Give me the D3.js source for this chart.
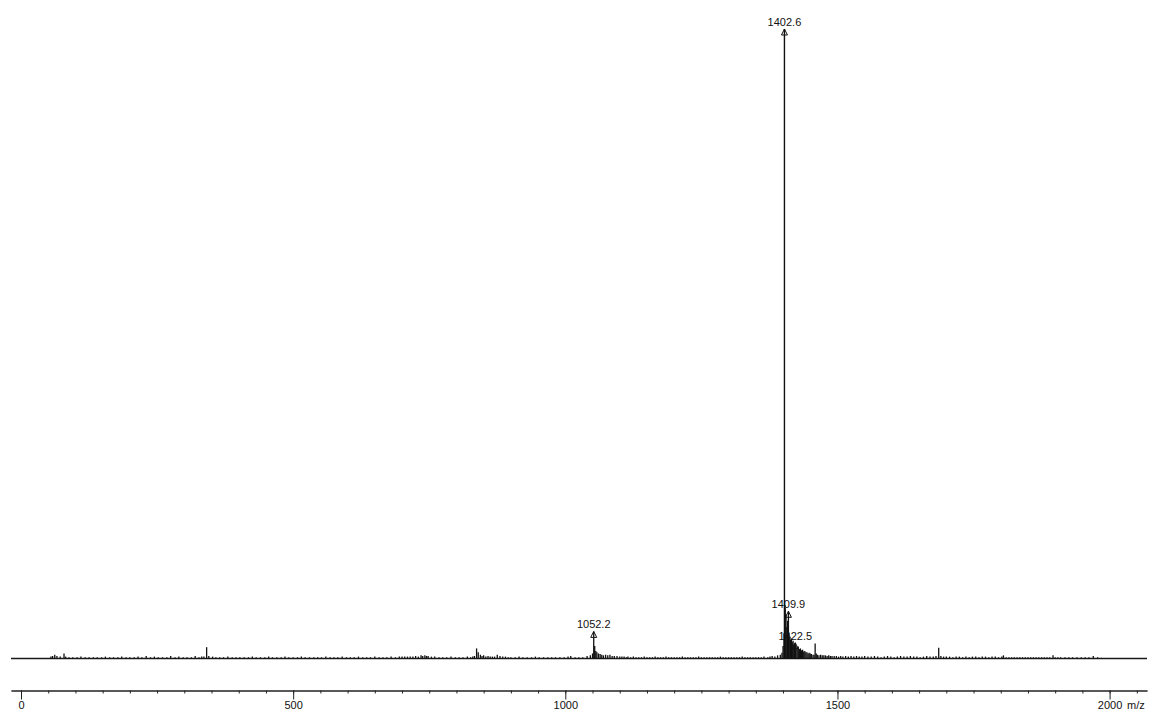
<!DOCTYPE html>
<html>
<head>
<meta charset="utf-8">
<script src="https://cdn.jsdelivr.net/npm/d3@7"></script>
<style>
html,body{margin:0;padding:0;background:#fff;}
svg{display:block;}
text{font-family:"Liberation Sans",Arial,Helvetica,sans-serif;}
</style>
</head>
<body>
<svg id="chart" width="1151" height="711"></svg>
<script>
// ---- data ----
const majorTicks = [0, 500, 1000, 1500, 2000];
const minorTicks = d3.range(0, 2051, 50);
const axisUnit = "m/z";

// labelled peaks: [m/z, relative intensity %]
const labelledMz = [1052.2, 1402.6, 1409.9, 1422.5];
const labelledInt = [4.3, 100, 7.5, 2.5];

// all sticks of the spectrum: m/z values and relative intensities (%)
const stickMz = [
  55,58,62,66,72,79,82,88,95,103,110,118,125,133,140,148,155,163,170,178,185,193,200,208,215,222,230,238,245,252,260,268,275,283,290,298,305,313,320,327,332,336,341,345,352,358,365,372,380,388,395,
  402,410,418,425,432,440,448,455,462,470,478,485,492,500,508,515,522,530,538,545,552,560,568,575,582,590,598,605,612,620,628,635,642,650,658,665,672,680,688,695,700,705,710,715,720,725,730,735,738,742,745,748,754,760,768,775,782,790,798,805,812,820,826,
  830,833,837,840,844,847,850,854,858,862,866,870,875,880,885,890,895,900,
  908,915,922,930,938,945,952,960,968,975,982,990,998,1005,1010,1018,1025,1032,1040,1046,1050,
  1052.2,1054,1056,1058,1061,1064,1067,1070,1074,1078,1082,1086,1090,1095,1100,1104,1108,1112,1115,1120,1125,1130,1135,1140,1145,1150,1155,1160,1165,1170,1175,1180,1185,1190,1195,
  1200,1205,1210,1215,1220,1225,1230,1235,1240,1245,1250,1255,1260,1265,1270,1275,1280,1285,1290,1295,1300,1305,1310,1315,1320,1325,1330,1335,1340,1345,1350,1355,1360,1365,1372,1376,1380,1385,1390,1395,1398,1400,1401.8,
  1402.6,1403.4,1404,1405.5,1407,1408.5,1409.9,1411,1412.5,1414,1415.5,1417,1418.5,1420,1421.3,1422.5,1424,1426,1428,1430,1432,1434,1436,1438,
  1440,1442,1444,1446,1448,1450,1452,1455,1457,1459,1461,1463,1466,1469,1472,1475,1478,1481,1484,1487,1490,1494,1498,
  1502,1506,1510,1515,1520,1525,1530,1535,1540,1545,1550,1556,1562,1568,1574,1580,1586,1592,1598,1604,1610,1616,1622,1628,
  1634,1640,1646,1652,1658,1664,1670,1676,1681,1686,1690,1695,1700,1706,1712,1718,1724,1730,1736,1742,1748,1754,1760,1766,
  1772,1778,1784,1790,1796,1802,1805,1810,1815,1820,1825,1830,1835,1840,1845,1850,1855,1860,1865,1870,1875,1880,1885,1890,1896,1900,1905,1910,1918,1925,1932,1940,1948,1955,1962,1970,1978,1985
];
const stickInt = [
  0.3,0.4,0.6,0.4,0.3,0.8,0.3,0.2,0.2,0.2,0.3,0.2,0.2,0.2,0.2,0.2,0.3,0.2,0.2,0.2,0.3,0.2,0.2,0.2,0.3,0.2,0.4,0.2,0.3,0.2,0.2,0.2,0.4,0.2,0.3,0.2,0.2,0.2,0.4,0.2,0.3,0.3,1.8,0.4,0.3,0.2,0.2,0.2,0.3,0.2,0.2,
  0.2,0.2,0.2,0.3,0.2,0.2,0.2,0.3,0.2,0.2,0.2,0.3,0.2,0.2,0.2,0.3,0.2,0.2,0.2,0.2,0.2,0.3,0.2,0.2,0.2,0.3,0.2,0.2,0.2,0.3,0.2,0.2,0.2,0.3,0.2,0.2,0.2,0.3,0.2,0.3,0.3,0.3,0.3,0.3,0.3,0.4,0.3,0.5,0.4,0.5,0.4,0.4,0.3,0.3,0.2,0.2,0.2,0.3,0.2,0.2,0.2,0.3,0.2,
  0.3,0.4,1.6,1.0,0.6,0.4,0.5,0.3,0.4,0.3,0.3,0.3,0.6,0.4,0.3,0.3,0.2,0.2,
  0.2,0.3,0.2,0.2,0.2,0.3,0.2,0.2,0.2,0.2,0.2,0.2,0.2,0.3,0.4,0.2,0.2,0.2,0.4,0.5,0.8,
  4.3,2.0,1.2,1.0,0.8,0.7,0.6,0.5,0.6,0.5,0.6,0.4,0.4,0.4,0.3,0.3,0.3,0.2,0.3,0.2,0.3,0.2,0.2,0.2,0.3,0.2,0.2,0.2,0.3,0.2,0.2,0.2,0.3,0.2,0.2,
  0.2,0.2,0.2,0.3,0.2,0.2,0.2,0.2,0.2,0.3,0.2,0.2,0.2,0.2,0.2,0.2,0.2,0.3,0.2,0.2,0.2,0.2,0.2,0.2,0.2,0.3,0.2,0.2,0.2,0.2,0.2,0.2,0.2,0.3,0.2,0.3,0.4,0.3,0.5,0.6,0.9,2.0,4.0,
  100,8.5,8,7,5,6,7.5,4,3.5,3,3.2,2.6,2.8,2.2,2.4,2.5,2.0,1.8,1.9,1.5,1.6,1.3,1.4,1.1,
  1.2,1.0,1.0,0.8,0.9,0.8,0.7,0.6,0.6,2.4,0.8,0.6,0.5,0.6,0.5,0.5,0.5,0.4,0.5,0.4,0.4,0.4,0.4,
  0.3,0.4,0.3,0.4,0.3,0.4,0.3,0.4,0.3,0.3,0.4,0.3,0.3,0.4,0.3,0.2,0.3,0.4,0.3,0.2,0.3,0.4,0.3,0.3,
  0.4,0.3,0.3,0.2,0.3,0.4,0.3,0.3,0.4,1.7,0.4,0.3,0.3,0.3,0.2,0.3,0.3,0.2,0.3,0.2,0.3,0.3,0.2,0.3,
  0.3,0.2,0.3,0.3,0.2,0.3,0.5,0.2,0.2,0.2,0.2,0.2,0.2,0.2,0.2,0.2,0.2,0.2,0.2,0.2,0.2,0.2,0.2,0.2,0.5,0.2,0.2,0.2,0.2,0.2,0.2,0.2,0.2,0.2,0.2,0.4,0.2,0.1
];

// ---- drawing ----
const svg = d3.select("#chart");
const x = d3.scaleLinear().domain([-18.4, 2068.7]).range([11, 1147]);
const y = d3.scaleLinear().domain([0, 100]).range([658.5, 29]);

// baseline of spectrum
svg.append("line")
  .attr("x1", x.range()[0]).attr("x2", x.range()[1])
  .attr("y1", y(0)).attr("y2", y(0))
  .attr("stroke", "#1a1a1a").attr("stroke-width", 1.6);

// sticks
const sticks = stickMz.map((m, i) => [m, stickInt[i]]);
svg.append("g").selectAll("line").data(sticks).join("line")
  .attr("x1", d => x(d[0])).attr("x2", d => x(d[0]))
  .attr("y1", y(0)).attr("y2", d => y(d[1]))
  .attr("stroke", "#111")
  .attr("stroke-width", d => d[1] > 50 ? 1.4 : 1.3);

// peak labels with arrow
const lab = labelledMz.map((m, i) => [m, labelledInt[i]]);
const lg = svg.append("g");
lab.forEach(([m, v]) => {
  const px = x(m), py = y(v);
  lg.append("path")
    .attr("d", `M${px - 3},${py + 6}L${px},${py}L${px + 3},${py + 6}Z`)
    .attr("fill", "none").attr("stroke", "#111").attr("stroke-width", 1);
  lg.append("text")
    .attr("x", px).attr("y", py - 3)
    .attr("text-anchor", "middle")
    .attr("font-size", 11).attr("fill", "#111")
    .text(m.toFixed(1));
});

// axis
const axisY = 690.5;
const gMinor = svg.append("g").attr("transform", `translate(0,${axisY})`)
  .call(d3.axisBottom(x).tickValues(minorTicks).tickSize(3).tickSizeOuter(0).tickFormat(""));
const gMajor = svg.append("g").attr("transform", `translate(0,${axisY})`)
  .call(d3.axisBottom(x).tickValues(majorTicks).tickSize(9).tickSizeOuter(0).tickPadding(1.5).tickFormat(d3.format("d")));
[gMinor, gMajor].forEach(g => {
  g.select(".domain").attr("stroke", "#222").attr("stroke-width", 1.2);
  g.selectAll(".tick line").attr("stroke", "#222");
});
gMajor.selectAll(".tick text")
  .attr("font-size", 11).attr("fill", "#111")
  .attr("font-family", '"Liberation Sans",Arial,sans-serif');

svg.append("text")
  .attr("x", 1127).attr("y", 708.5)
  .attr("font-size", 11).attr("fill", "#111")
  .text(axisUnit);
</script>
</body>
</html>
